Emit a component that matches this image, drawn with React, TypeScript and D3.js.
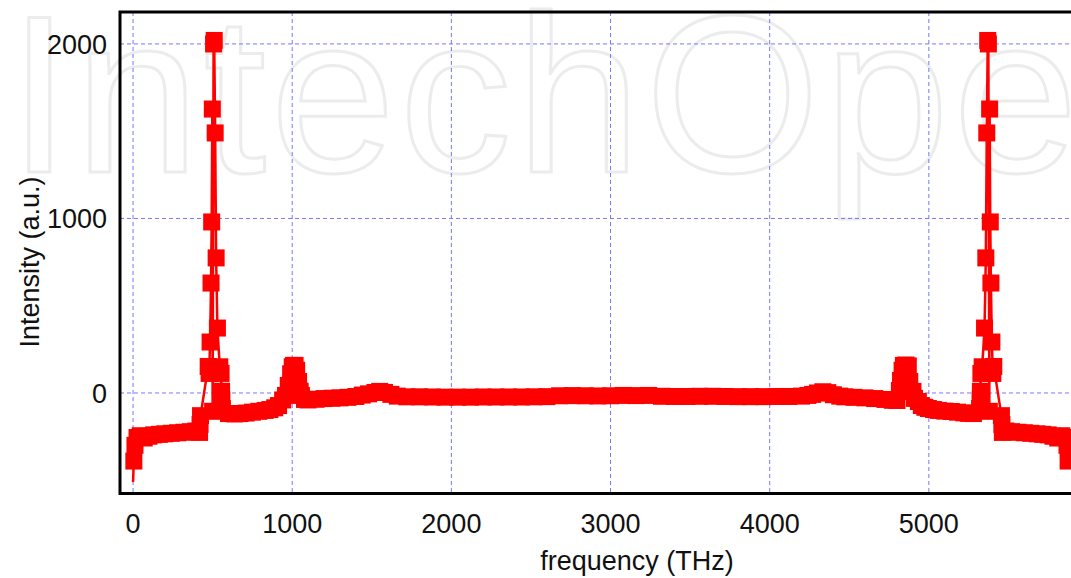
import React from "react";
import { scaleLinear, line } from "d3";

// frequency (THz), intensity (a.u.)
const dcSpike: [number, number][] = [
  [0, -510],
  [5, -390],
];

const leftWing: [number, number][] = [
  [5, -390], [12, -300], [25, -255], [45, -245], [70, -258], [100, -248],
  [130, -240], [165, -237], [200, -234], [240, -231], [280, -228], [320, -225],
  [360, -222], [395, -218], [418, -226], [421, -180], [424, -130],
  [472, 152], [478, 112], [484, 292], [490, 630], [494, 980], [498, 1627],
  [500, -105], [506, 2000], [510, 2020], [516, 1490], [522, 774], [530, 372],
  [545, 150], [553, 112], [556, 10], [558, -40], [561, -89],
  [600, -118], [640, -120], [672, -118], [710, -115], [750, -110], [790, -105],
  [830, -100], [860, -95], [890, -85], [914, -72], [940, -40],
];

const peak1000: [number, number][] = [
  [958, -14], [975, 43], [990, 110], [1000, 150], [1008, 158], [1018, 158],
  [1028, 130], [1040, 66], [1050, 10], [1058, -14], [1077, -37],
];

const middle: [number, number][] = [
  [1100, -40], [1150, -36], [1200, -32], [1250, -30], [1300, -28], [1350, -25],
  [1400, -20], [1440, -12], [1480, -5], [1520, 3], [1550, 9], [1580, 3],
  [1620, -8], [1660, -18], [1720, -22], [1800, -22], [1880, -23], [1960, -24],
  [2040, -24], [2120, -24], [2200, -23], [2280, -23], [2360, -23], [2440, -23],
  [2520, -22], [2600, -21], [2680, -16], [2760, -15], [2840, -16], [2920, -17],
  [3000, -16], [3080, -14], [3160, -15], [3240, -14], [3320, -19], [3400, -20],
  [3480, -20], [3560, -19], [3640, -19], [3720, -20], [3800, -21], [3880, -21],
  [3960, -21], [4040, -20], [4120, -20], [4200, -18], [4240, -14], [4270, -8],
  [4300, 0], [4334, 7], [4365, 2], [4400, -10], [4440, -18], [4472, -22],
  [4530, -25], [4598, -28], [4660, -32], [4724, -37], [4770, -42],
];

const peak4850: [number, number][] = [
  [4800, -43], [4815, 14], [4822, 72], [4832, 130], [4840, 158], [4856, 160],
  [4871, 155], [4880, 66], [4900, 9], [4910, -31], [4934, -49], [4953, -72],
  [4975, -82], [4997, -89], [5030, -95], [5060, -100], [5100, -104], [5141, -106],
];

const rightWing: [number, number][] = [
  [5180, -110], [5220, -114], [5250, -117], [5280, -118], [5319, -89],
  [5322, -40], [5324, 10], [5327, 112], [5335, 150], [5350, 372], [5358, 774],
  [5364, 1490], [5370, 2020], [5374, 2000], [5380, -105], [5382, 1627],
  [5386, 980], [5390, 630], [5396, 292], [5402, 112], [5408, 152],
  [5456, -130], [5459, -180], [5462, -226], [5485, -218], [5520, -222],
  [5560, -225], [5600, -228], [5640, -231], [5680, -234], [5715, -237],
  [5750, -240], [5780, -248], [5810, -258], [5835, -245], [5855, -255],
  [5868, -300], [5875, -390],
];

const xTicks = [0, 1000, 2000, 3000, 4000, 5000];
const yTicks = [0, 1000, 2000];

const W = 1071;
const H = 578;
const left = 120;
const top = 12;
const bottom = 493.5;
const right = 1088;
const font = "'Liberation Sans', Arial, Helvetica, sans-serif";

export default function App() {
  const x = scaleLinear().domain([-82, 6000]).range([left, right]);
  const y = scaleLinear().domain([-576, 2183]).range([bottom, top]);

  const series = [...leftWing, ...peak1000, ...middle, ...peak4850, ...rightWing];
  const path = line<[number, number]>()
    .x((d) => x(d[0]))
    .y((d) => y(d[1]));

  const m = 17;

  return (
    <svg
      width={W}
      height={H}
      viewBox={`0 0 ${W} ${H}`}
      style={{ position: "absolute", left: 0, top: 0, background: "#fff" }}
    >
      <defs>
        <clipPath id="plot">
          <rect x={left} y={top} width={right - left} height={bottom - top} />
        </clipPath>
      </defs>

      {/* watermark */}
      <text
        x={8}
        y={172}
        fontFamily={font}
        fontSize={225}
        letterSpacing={4}
        fill="none"
        stroke="#ececec"
        strokeWidth={3}
      >
        IntechOpen
      </text>

      {/* grid */}
      <g stroke="#7777ff" strokeWidth={1} strokeDasharray="4,3">
        {xTicks.map((t) => (
          <line key={`gx${t}`} x1={x(t)} x2={x(t)} y1={top} y2={bottom} />
        ))}
        {yTicks.map((t) => (
          <line key={`gy${t}`} x1={left} x2={W} y1={y(t)} y2={y(t)} />
        ))}
      </g>

      {/* series */}
      <g clipPath="url(#plot)">
        <path d={path(dcSpike) ?? ""} fill="none" stroke="#ff0000" strokeWidth={2.5} />
        <path d={path(series) ?? ""} fill="none" stroke="#ff0000" strokeWidth={2.5} />
        <g fill="#ff0000">
          {series.map((d, i) => (
            <rect key={i} x={x(d[0]) - m / 2} y={y(d[1]) - m / 2} width={m} height={m} />
          ))}
        </g>
      </g>

      {/* frame */}
      <path
        d={`M${W + 5},${top} H${left} V${bottom} H${W + 5}`}
        fill="none"
        stroke="#000"
        strokeWidth={3}
      />

      {/* tick labels */}
      <g fontFamily={font} fontSize={27} fill="#111">
        {xTicks.map((t) => (
          <text key={`tx${t}`} x={x(t)} y={533} textAnchor="middle">
            {t}
          </text>
        ))}
        {yTicks.map((t) => (
          <text key={`ty${t}`} x={107} y={y(t)} dy="0.36em" textAnchor="end">
            {t}
          </text>
        ))}
      </g>

      {/* axis titles */}
      <text x={637} y={570} textAnchor="middle" fontFamily={font} fontSize={27} fill="#111">
        frequency (THz)
      </text>
      <text
        transform={`translate(39,262) rotate(-90)`}
        textAnchor="middle"
        fontFamily={font}
        fontSize={27}
        fill="#111"
      >
        Intensity (a.u.)
      </text>
    </svg>
  );
}
